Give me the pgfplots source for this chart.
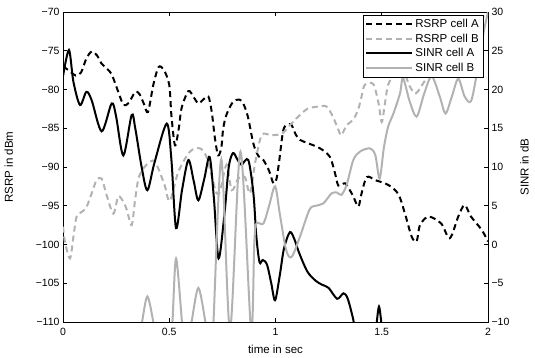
\documentclass[border=0pt]{standalone}
\usepackage{fontspec}
\setmainfont{Liberation Sans}
\setsansfont{Liberation Sans}
\usepackage{pgfplots}
\pgfplotsset{compat=1.18}
\definecolor{lg}{gray}{0.7}

\pgfplotsset{
  base/.style={
    at={(63pt,36pt)}, anchor=south west,
    width=425pt, height=310pt, scale only axis,
    xmin=0, xmax=2,
    tick align=inside, major tick length=4pt,
    tick label style={font=\fontsize{10.5}{12}\selectfont},
    label style={font=\fontsize{11.5}{13}\selectfont},
    axis line style={line width=0.6pt},
    every tick/.style={line width=0.6pt, black},
  },
  sa/.style={black, line width=2pt, dash pattern=on 6pt off 4pt, smooth, tension=0.5},
  sb/.style={lg, line width=2pt, dash pattern=on 6pt off 4pt, smooth, tension=0.5},
  na/.style={black, line width=2pt, smooth, tension=0.5},
  nb/.style={lg, line width=2pt, smooth, tension=0.5},
}

\begin{document}
\begin{tikzpicture}
\path[use as bounding box] (0,0) rectangle (535pt,358pt);
\begin{axis}[
  base,
  ymin=-110, ymax=-70,
  xtick={0,0.5,1,1.5,2}, xticklabels={0,0.5,1,1.5,2},
  ytick={-110,-105,-100,-95,-90,-85,-80,-75,-70},
  yticklabels={−110,−105,−100,−95,−90,−85,−80,−75,−70},
  xtick pos=both, ytick pos=left,
  xticklabel style={yshift=-3pt},
  xlabel={time in sec}, ylabel={RSRP in dBm},
  xlabel style={yshift=-2pt},
  ylabel style={xshift=0pt, yshift=16pt},
]
\addplot[sa] coordinates {
(0,-77) (0.03,-77.6) (0.06,-78.2) (0.085,-77.8) (0.11,-76) (0.135,-75.1)
(0.16,-75.6) (0.18,-76.6) (0.21,-77.4) (0.23,-78.1) (0.26,-80.3) (0.285,-82)
(0.31,-81.7) (0.34,-80.3) (0.36,-80.6) (0.38,-81.8) (0.40,-82.9) (0.425,-79.4)
(0.45,-77.1) (0.475,-77.5) (0.50,-79.4) (0.51,-83.3) (0.527,-87.2) (0.545,-85)
(0.558,-82.4) (0.59,-80.2) (0.615,-81) (0.637,-81.8) (0.66,-81.3) (0.684,-80.9)
(0.70,-82.9) (0.715,-86.3) (0.73,-88.5) (0.745,-87.5) (0.754,-85) (0.77,-83.2)
(0.80,-81.6) (0.83,-81.3) (0.848,-81.8) (0.87,-83.5) (0.896,-87) (0.92,-88.6)
(0.943,-89.1) (0.97,-90.5) (0.99,-92.1) (1.005,-91.5) (1.018,-89.1) (1.037,-85.2)
(1.06,-84.5) (1.076,-84.6) (1.095,-85.8) (1.115,-86.5) (1.15,-86.9) (1.21,-87.6)
(1.256,-88.7) (1.28,-90.8) (1.296,-92.4) (1.327,-92.1) (1.35,-93) (1.366,-93.8)
(1.39,-95.1) (1.405,-93.4) (1.43,-91.3) (1.47,-91.7) (1.53,-92.3) (1.578,-93.5)
(1.609,-96) (1.641,-99) (1.664,-99.6) (1.68,-97.5) (1.72,-96.4) (1.78,-97.3)
(1.82,-99.2) (1.86,-96.4) (1.89,-94.9) (1.92,-96.4) (1.97,-98.1) (2.0,-99.6)
};
\addplot[sb] coordinates {
(0,-97.7) (0.01,-99.8) (0.033,-101.8) (0.049,-99) (0.064,-96.4) (0.088,-95.8)
(0.11,-95.2) (0.135,-93.4) (0.158,-91.7) (0.182,-91.5) (0.205,-93.6) (0.237,-96)
(0.26,-93.8) (0.284,-94.5) (0.3,-95.5) (0.323,-97.5) (0.339,-94.3) (0.355,-91.5)
(0.378,-90.2) (0.41,-89.3) (0.433,-89.3) (0.46,-91) (0.48,-92.5) (0.503,-94.4)
(0.543,-90.6) (0.598,-88) (0.645,-87.6) (0.676,-88.7) (0.70,-91.2) (0.723,-93.4)
(0.74,-93) (0.77,-89.7) (0.794,-93) (0.825,-91.5) (0.856,-91.3) (0.88,-93.4)
(0.904,-89.5) (0.935,-85.9) (0.98,-85.9) (1.03,-85.7) (1.068,-84.6) (1.107,-83.5)
(1.15,-82.5) (1.2,-82.2) (1.24,-82.2) (1.27,-83.5) (1.296,-85.2) (1.31,-85.9)
(1.335,-84.6) (1.366,-83.9) (1.39,-82.5) (1.405,-80.9) (1.42,-79.4) (1.46,-79.3)
(1.485,-81.8) (1.50,-84.2) (1.515,-81.8) (1.53,-79.4) (1.56,-78) (1.6,-77.5)
(1.63,-79.5) (1.66,-80.5) (1.7,-79) (1.75,-77) (1.8,-76) (1.85,-75)
(1.9,-72.5) (1.95,-71) (2.0,-70.3)
};
\end{axis}
\begin{axis}[
  base,
  ymin=-10, ymax=30,
  axis x line=none, axis y line*=right,
  ytick={-10,-5,0,5,10,15,20,25,30},
  yticklabels={−10,−5,0,5,10,15,20,25,30},
  ylabel={SINR in dB},
  ylabel style={yshift=-4pt},
  legend style={at={(rel axis cs:0.988,0.99)}, anchor=north east, draw=black,
    font=\fontsize{11.5}{13.5}\selectfont, inner sep=2pt, row sep=0.8pt},
  legend cell align=left,
  legend image code/.code={\draw[#1] (0pt,0pt) -- (46pt,0pt);},
]
\addlegendimage{sa}
\addlegendentry{RSRP cell A}
\addlegendimage{sb}
\addlegendentry{RSRP cell B}
\addplot[na] coordinates {
(0,21.7) (0.028,25.1) (0.049,21) (0.08,18) (0.11,19.7) (0.135,18.6)
(0.182,14.6) (0.229,18.2) (0.25,16.5) (0.284,11.5) (0.323,16.7) (0.34,15)
(0.37,10) (0.397,7.0) (0.43,10.5) (0.488,15.6) (0.51,11) (0.532,2.1)
(0.56,7) (0.59,10.9) (0.615,8.2) (0.637,5.7) (0.665,8.5) (0.69,11.3)
(0.71,6) (0.732,-1.8) (0.76,4) (0.78,10) (0.80,11.8) (0.82,11)
(0.84,10.3) (0.872,10.9) (0.896,6.6) (0.91,1.0) (0.925,-2.3) (0.94,-2.0)
(0.96,-2.6) (0.98,-5) (0.998,-7.2) (1.02,-4) (1.04,-0.5) (1.068,1.6)
(1.09,0.6) (1.11,-1.0) (1.15,-3.5) (1.19,-4.7) (1.22,-5.2) (1.25,-5.6)
(1.29,-7.0) (1.32,-6.3) (1.34,-7.0) (1.366,-9.7) (1.38,-12) (1.46,-12)
(1.474,-10.5) (1.487,-8) (1.50,-10.5) (1.51,-12)
};
\addlegendentry{SINR cell A}
\addplot[nb] coordinates {
(0.36,-12) (0.372,-10) (0.397,-6.7) (0.425,-10) (0.435,-12) (0.505,-12)
(0.515,-10) (0.532,-1.8) (0.56,-10) (0.57,-12) (0.59,-12) (0.605,-10)
(0.637,-5.6) (0.67,-10) (0.68,-12) (0.70,-12) (0.708,-10) (0.745,11)
(0.786,-11) (0.835,12) (0.885,-11) (0.90,0) (0.91,2.7) (0.943,2.7)
(0.97,5) (0.998,7.5) (1.02,4) (1.05,-0.7) (1.076,-1.6) (1.115,1.0)
(1.16,4.5) (1.19,5.0) (1.225,5.3) (1.264,6.6) (1.29,6.7) (1.31,6.4)
(1.335,7.7) (1.366,10.9) (1.398,12) (1.445,12.4) (1.47,11.5) (1.49,8.5)
(1.51,12.5) (1.53,15.2) (1.555,16.9) (1.586,19.5) (1.60,21.5) (1.63,18.6)
(1.664,16.5) (1.70,19.5) (1.735,21.7) (1.774,19) (1.80,16.9) (1.83,19.1)
(1.86,21.4) (1.89,19.1) (1.92,18.5) (1.947,22) (1.978,27.2) (2.0,30)
};
\addlegendentry{SINR cell B}
\end{axis}
\end{tikzpicture}
\end{document}
